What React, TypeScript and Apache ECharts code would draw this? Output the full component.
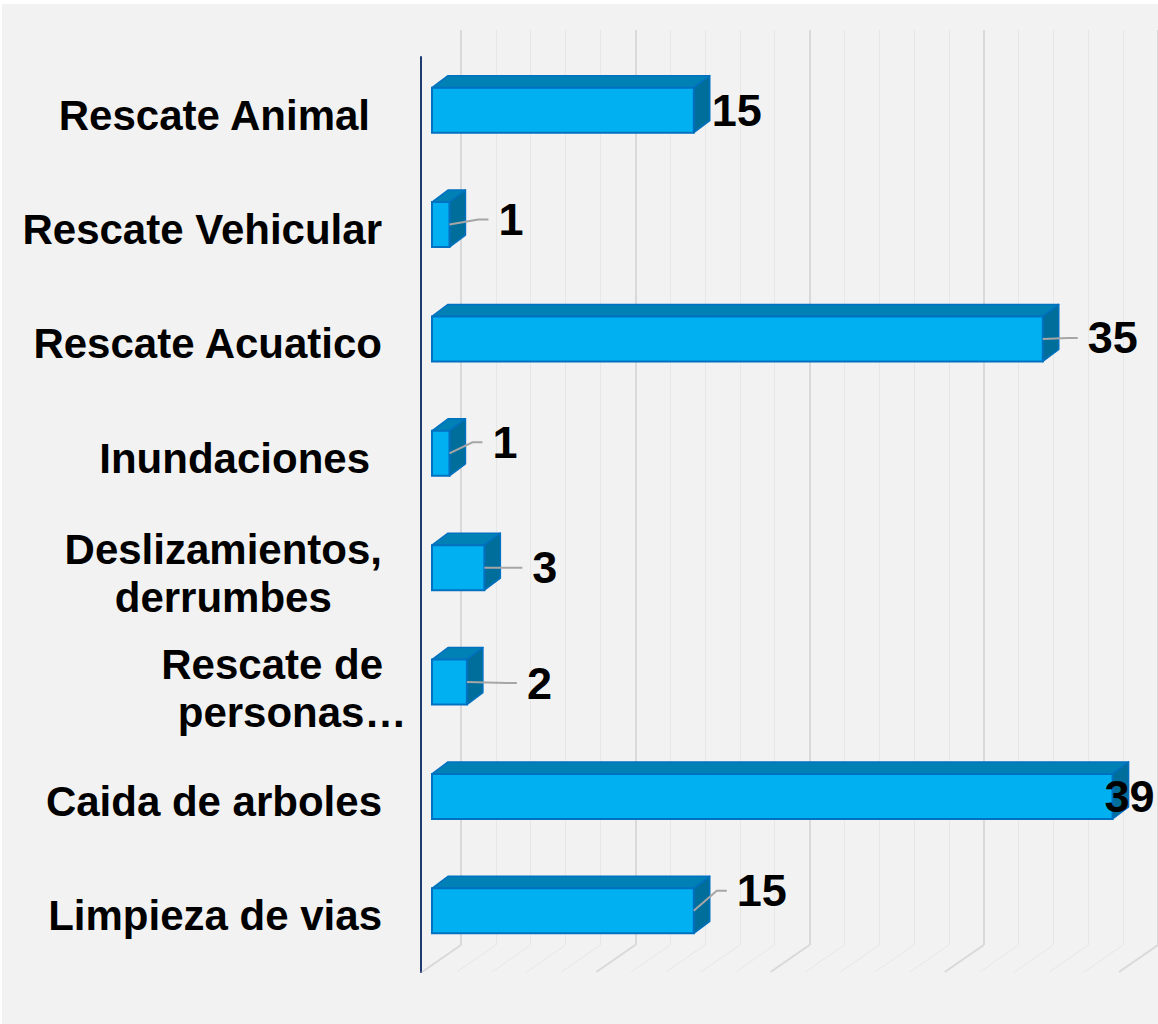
import React, { useEffect, useRef } from "react";
import * as echarts from "echarts";

// ---- data ----
const categories = [
  "Rescate Animal",
  "Rescate Vehicular",
  "Rescate Acuatico",
  "Inundaciones",
  "Deslizamientos,\nderrumbes",
  "Rescate de\npersonas…",
  "Caida de arboles",
  "Limpieza de vias",
];
const values = [15, 1, 35, 1, 3, 2, 39, 15];
const axisMin = 0;
const axisMax = 40;
const majorInterval = 10;
const floorTicks = [0, 2, 4, 6, 8, 10, 12, 14, 16, 18, 20, 22, 24, 26, 28, 30, 32, 34, 36, 38, 40];

// ---- layout / styling (not data) ----
const labelShift: number[][] = [
  [18, 0], [49, -5], [45, -1], [43, -11], [48, 0], [60, 1], [-8, 0], [43, -20],
];
const catLabelPad: number[][] = [
  [10, 12, 0, 0], [10, 0, 0, 0], [10, 0, 0, 0], [10, 12, 0, 0],
  [12, 0, 0, 0], [12, -41, 0, 0], [10, 0, 0, 0], [10, 0, 0, 0],
];
const lineExtraPad: Record<string, number> = { "Rescate de": 40 };

const FONT = "'Liberation Sans', Arial, Helvetica, sans-serif";
const DEPTH_X = 16;
const DEPTH_Y = 12;
const FLOOR_DX = -39;
const FLOOR_DY = 27;

export default function App() {
  const ref = useRef<HTMLDivElement>(null);

  useEffect(() => {
    if (!ref.current) return;
    const chart = echarts.init(ref.current, undefined, { renderer: "svg" });

    const catRich: any = {
      c: { align: "center", fontSize: 42, fontWeight: "bold", fontFamily: FONT, color: "#000", lineHeight: 48 },
    };
    Object.keys(lineExtraPad).forEach((k, i) => {
      catRich["p" + i] = {
        align: "center", fontSize: 42, fontWeight: "bold", fontFamily: FONT, color: "#000", lineHeight: 48,
        padding: [0, lineExtraPad[k], 0, 0],
      };
    });
    const padKeys = Object.keys(lineExtraPad);

    const option: any = {
      animation: false,
      backgroundColor: "#ffffff",
      graphic: [
        {
          type: "rect",
          left: 2, top: 4,
          shape: { width: 1156, height: 1020 },
          style: { fill: "#F2F2F2" },
          z: -10,
          silent: true,
        },
      ],
      grid: [
        { left: 432, top: 53, width: 698, height: 915 }, // bars
        { left: 461, top: 30, width: 698, height: 915 }, // back wall
        { left: 421, top: 57, width: 698, height: 915 }, // front plane
      ],
      xAxis: [
        { gridIndex: 0, type: "value", min: axisMin, max: axisMax, interval: majorInterval, show: false },
        {
          gridIndex: 1, type: "value", min: axisMin, max: axisMax, interval: majorInterval,
          axisLine: { show: false }, axisTick: { show: false }, axisLabel: { show: false },
          splitLine: { show: true, lineStyle: { color: "#D9D9D9", width: 2 } },
          minorTick: { show: false, splitNumber: 5 },
          minorSplitLine: { show: true, lineStyle: { color: "#E7E7E7", width: 1 } },
        },
        { gridIndex: 2, type: "value", min: axisMin, max: axisMax, show: false },
      ],
      yAxis: [
        {
          gridIndex: 0, type: "category", inverse: true,
          data: categories.map((c, i) => ({ value: c, textStyle: { padding: catLabelPad[i] } })),
          axisLine: { show: false }, axisTick: { show: false }, splitLine: { show: false },
          axisLabel: {
            interval: 0, margin: 50, align: "right", verticalAlign: "middle",
            fontSize: 42, fontWeight: "bold", fontFamily: FONT, color: "#000", lineHeight: 48,
            formatter: (v: string) => {
              if (v.indexOf("\n") < 0) return v;
              return v
                .split("\n")
                .map((l) => {
                  const idx = padKeys.indexOf(l);
                  return "{" + (idx >= 0 ? "p" + idx : "c") + "|" + l + "}";
                })
                .join("\n");
            },
            rich: catRich,
          },
        },
        { gridIndex: 1, type: "value", min: 0, max: 1, show: false },
        {
          gridIndex: 2, type: "value", min: 0, max: 1,
          axisLine: { show: true, onZero: false, lineStyle: { color: "#1F3A6E", width: 2 } },
          axisTick: { show: false }, axisLabel: { show: false }, splitLine: { show: false },
        },
      ],
      series: [
        {
          // floor lines
          type: "custom",
          xAxisIndex: 1, yAxisIndex: 1,
          silent: true, z: 1,
          data: floorTicks.map((t) => [t, 0]),
          renderItem: (params: any, api: any) => {
            const t = api.value(0);
            const p = api.coord([t, 0]);
            const major = t % majorInterval === 0;
            return {
              type: "line",
              shape: { x1: p[0], y1: p[1], x2: p[0] + FLOOR_DX, y2: p[1] + FLOOR_DY },
              style: { stroke: major ? "#D9D9D9" : "#E7E7E7", lineWidth: major ? 2 : 1 },
            };
          },
        },
        {
          // 3D bars
          type: "custom",
          xAxisIndex: 0, yAxisIndex: 0,
          z: 3,
          encode: { x: 0, y: 1 },
          data: values.map((v, i) => [v, i]),
          renderItem: (params: any, api: any) => {
            const v = api.value(0);
            const c = api.value(1);
            const p0 = api.coord([0, c]);
            const p1 = api.coord([v, c]);
            const band = api.size([0, 1])[1];
            const h = band * 0.394;
            const x0 = p0[0];
            const x1 = p1[0];
            const y0 = p0[1] - h / 2;
            const edge = "#0070C0";
            return {
              type: "group",
              children: [
                {
                  type: "polygon",
                  shape: { points: [[x0, y0], [x0 + DEPTH_X, y0 - DEPTH_Y], [x1 + DEPTH_X, y0 - DEPTH_Y], [x1, y0]] },
                  style: { fill: "#0081B5", stroke: edge, lineWidth: 1.5, lineJoin: "round" },
                },
                {
                  type: "polygon",
                  shape: { points: [[x1, y0], [x1 + DEPTH_X, y0 - DEPTH_Y], [x1 + DEPTH_X, y0 + h - DEPTH_Y], [x1, y0 + h]] },
                  style: { fill: "#006E9A", stroke: edge, lineWidth: 1.5, lineJoin: "round" },
                },
                {
                  type: "rect",
                  shape: { x: x0, y: y0, width: x1 - x0, height: h },
                  style: { fill: "#00B0F0", stroke: edge, lineWidth: 2 },
                },
              ],
            };
          },
        },
        {
          // value labels with leader lines
          type: "custom",
          xAxisIndex: 0, yAxisIndex: 0,
          z: 5, silent: true,
          encode: { x: 0, y: 1 },
          data: values.map((v, i) => [v, i]),
          renderItem: (params: any, api: any) => {
            const i = params.dataIndex;
            const v = api.value(0);
            const c = api.value(1);
            const p1 = api.coord([v, c]);
            const sh = labelShift[i];
            const lx = p1[0] + sh[0];
            const ly = p1[1] + sh[1];
            const children: any[] = [];
            if (sh[0] > 25) {
              children.push({
                type: "polyline",
                shape: { points: [[p1[0], p1[1]], [lx - 20, ly], [lx - 10, ly]] },
                style: { stroke: "#A6A6A6", lineWidth: 2, fill: "none" },
              });
            }
            children.push({
              type: "text",
              x: lx, y: ly,
              style: {
                text: String(v),
                fontSize: 45, fontWeight: "bold", fontFamily: FONT,
                fill: "#000", align: "left", verticalAlign: "middle",
              },
            });
            return { type: "group", children };
          },
        },
      ],
    };

    chart.setOption(option);
    return () => chart.dispose();
  }, []);

  return (
    <div
      ref={ref}
      style={{ position: "fixed", left: 0, top: 0, width: 1158, height: 1024 }}
    />
  );
}
